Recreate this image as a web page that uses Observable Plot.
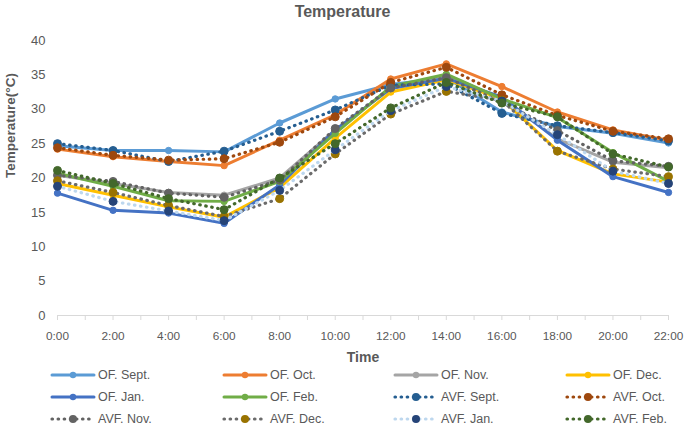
<!DOCTYPE html>
<html>
<head>
<meta charset="utf-8">
<script src="https://cdn.jsdelivr.net/npm/d3@7"></script>
<script src="https://cdn.jsdelivr.net/npm/@observablehq/plot@0.6"></script>
<style>
  html, body { margin: 0; padding: 0; background: #fff; }
  body { width: 685px; height: 427px; position: relative; overflow: hidden; font-family: "Liberation Sans", Arial, sans-serif; color: #595959; }
  #title { position: absolute; top: 2px; left: 0; width: 685px; text-align: center; font-weight: bold; font-size: 16px; line-height: 20px; color: #595959; }
  #chart { position: absolute; top: 20px; left: 0; }
  #legend { position: absolute; top: 364px; left: 0; width: 685px; }
  .item { position: absolute; height: 22px; display: flex; align-items: center; font-size: 12.5px; color: #595959; white-space: nowrap; }
  .item svg { margin-right: 2px; }
</style>
</head>
<body>
<div id="title">Temperature</div>
<div id="chart"></div>
<div id="legend"></div>
<script>
// ---- data ----
const times = ["0:00","2:00","4:00","6:00","8:00","10:00","12:00","14:00","16:00","18:00","20:00","22:00"];
const yTicks = [0, 5, 10, 15, 20, 25, 30, 35, 40];

const ofSept = [24.7, 24.0, 24.0, 23.8, 28.0, 31.5, 33.6, 34.6, 29.6, 27.5, 26.5, 25.1];
const ofOct  = [24.2, 23.1, 22.4, 21.8, 25.5, 29.2, 34.4, 36.6, 33.3, 29.6, 27.0, 25.5];
const ofNov  = [20.4, 19.2, 17.9, 17.5, 20.0, 27.0, 33.0, 35.0, 31.5, 25.7, 22.3, 21.5];
const ofDec  = [19.2, 17.5, 15.8, 14.3, 18.6, 25.8, 32.5, 34.3, 31.5, 24.0, 20.6, 19.4];
const ofJan  = [17.8, 15.3, 14.9, 13.4, 19.0, 27.0, 33.0, 34.5, 31.8, 25.5, 20.2, 17.9];
const ofFeb  = [20.7, 18.8, 16.7, 16.6, 19.5, 26.5, 33.3, 35.1, 31.5, 28.8, 23.7, 19.5];

const avfSept = [25.0, 24.0, 22.4, 23.9, 26.8, 29.9, 33.5, 33.7, 29.4, 27.6, 26.6, 25.4];
const avfOct  = [24.4, 23.3, 22.6, 22.8, 25.2, 28.9, 33.9, 36.1, 32.1, 29.1, 26.8, 25.7];
const avfNov  = [20.4, 19.5, 17.8, 17.2, 19.7, 27.2, 33.1, 34.6, 31.0, 26.9, 22.5, 21.7];
const avfDec  = [19.6, 17.9, 16.0, 14.4, 17.0, 23.5, 29.3, 32.6, 31.3, 23.9, 21.3, 20.2];
const avfJan  = [18.8, 16.6, 15.2, 13.8, 18.2, 24.1, 29.8, 33.3, 31.2, 26.3, 21.0, 19.2];
const avfFeb  = [21.1, 19.2, 17.0, 15.4, 20.0, 25.0, 30.2, 33.9, 30.9, 28.9, 23.5, 21.6];

// ---- series styling ----
const series = [
  {name: "OF. Sept.",  values: ofSept,  line: "#5B9BD5", marker: "#5B9BD5", dotted: false},
  {name: "OF. Oct.",   values: ofOct,   line: "#ED7D31", marker: "#ED7D31", dotted: false},
  {name: "OF. Nov.",   values: ofNov,   line: "#A5A5A5", marker: "#A5A5A5", dotted: false},
  {name: "OF. Dec.",   values: ofDec,   line: "#FFC000", marker: "#FFC000", dotted: false},
  {name: "OF. Jan.",   values: ofJan,   line: "#4472C4", marker: "#4472C4", dotted: false},
  {name: "OF. Feb.",   values: ofFeb,   line: "#70AD47", marker: "#70AD47", dotted: false},
  {name: "AVF. Sept.", values: avfSept, line: "#255E91", marker: "#255E91", dotted: true},
  {name: "AVF. Oct.",  values: avfOct,  line: "#9E480E", marker: "#9E480E", dotted: true},
  {name: "AVF. Nov.",  values: avfNov,  line: "#636363", marker: "#636363", dotted: true},
  {name: "AVF. Dec.",  values: avfDec,  line: "#6B6B6B", marker: "#997300", dotted: true},
  {name: "AVF. Jan.",  values: avfJan,  line: "#BDD7EE", marker: "#264478", dotted: true},
  {name: "AVF. Feb.",  values: avfFeb,  line: "#43682B", marker: "#43682B", dotted: true}
];

const hourOf = t => +t.split(":")[0];
const rows = series.flatMap(s => s.values.map((v, i) => ({series: s.name, hour: hourOf(times[i]), value: v})));

const marks = [
  Plot.ruleY([0], {stroke: "#D9D9D9", strokeWidth: 1}),
  Plot.axisY({ticks: yTicks, tickSize: 0, tickPadding: 12, label: null, fontSize: 13, fill: "#595959"}),
  Plot.axisX({ticks: d3.range(0, 23), tickSize: 5, tickPadding: 11, stroke: "#D9D9D9", fill: "#595959", fontSize: 11.8,
              tickFormat: h => h % 2 ? "" : `${h}:00`, label: null}),
  Plot.text(["Time"], {frameAnchor: "bottom", dy: 46, fontWeight: "bold", fontSize: 14, fill: "#595959"}),
  Plot.text(["Temperature(°C)"], {frameAnchor: "left", dx: -47, rotate: -90, fontWeight: "bold", fontSize: 13.5, fill: "#595959"})
];

for (const s of series) {
  const d = rows.filter(r => r.series === s.name);
  marks.push(Plot.line(d, {
    x: "hour", y: "value", stroke: s.line,
    strokeWidth: s.dotted ? 3.2 : 3,
    strokeDasharray: s.dotted ? "0.5 5.6" : null,
    strokeLinecap: "round", strokeLinejoin: "round"
  }));
  marks.push(Plot.dot(d, {x: "hour", y: "value", fill: s.marker, stroke: s.marker, strokeWidth: 1, r: s.dotted ? 4 : 3.2}));
}

const chart = Plot.plot({
  width: 685, height: 344,
  marginTop: 20, marginLeft: 57, marginRight: 17, marginBottom: 49,
  x: {domain: [0, 22]},
  y: {domain: [0, 40]},
  style: {fontFamily: "'Liberation Sans', Arial, sans-serif", fontSize: "13px", color: "#595959", background: "white", overflow: "visible"},
  marks
});
document.getElementById("chart").appendChild(chart);

// ---- legend ----
const legend = document.getElementById("legend");
const colX = [50, 222, 393, 565];
series.forEach((s, i) => {
  const col = i % 4, row = Math.floor(i / 4);
  const div = document.createElement("div");
  div.className = "item";
  div.style.left = colX[col] + "px";
  div.style.top = (row * 22) + "px";
  const ns = "http://www.w3.org/2000/svg";
  const svg = document.createElementNS(ns, "svg");
  svg.setAttribute("width", 46); svg.setAttribute("height", 22);
  const ln = document.createElementNS(ns, "line");
  ln.setAttribute("x1", 2); ln.setAttribute("x2", 44); ln.setAttribute("y1", 11); ln.setAttribute("y2", 11);
  ln.setAttribute("stroke", s.line); ln.setAttribute("stroke-width", s.dotted ? 3.2 : 3);
  ln.setAttribute("stroke-linecap", "round");
  if (s.dotted) ln.setAttribute("stroke-dasharray", "0.5 5.6");
  svg.appendChild(ln);
  const c = document.createElementNS(ns, "circle");
  c.setAttribute("cx", 23); c.setAttribute("cy", 11); c.setAttribute("r", s.dotted ? 4 : 3.2);
  c.setAttribute("fill", s.marker);
  svg.appendChild(c);
  div.appendChild(svg);
  const span = document.createElement("span");
  span.textContent = s.name;
  div.appendChild(span);
  legend.appendChild(div);
});
</script>
</body>
</html>
